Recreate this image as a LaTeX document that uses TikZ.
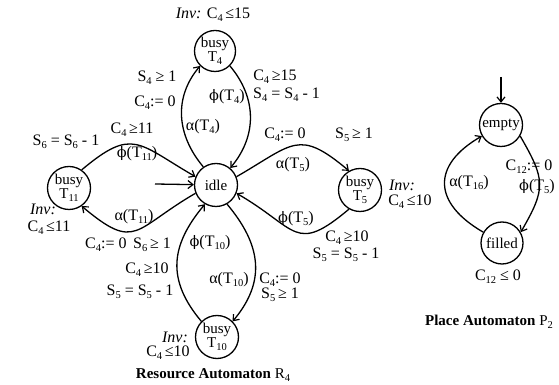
\documentclass[tikz,border=0pt]{standalone}
\usepackage{fontspec}
\setmainfont{Liberation Serif}
\newfontfamily\grk{DejaVu Serif}
\usetikzlibrary{arrows.meta}
\newcommand\sub[1]{\raisebox{-0.4ex}{\fontsize{10.5}{11}\selectfont #1}}
\newcommand\phii{{\grk\fontsize{14.5}{15}\selectfont ϕ}}
\begin{document}
\begin{tikzpicture}[x=1pt,y=1pt,
  st/.style={circle,draw,line width=1.3pt,minimum size=43pt,inner sep=0pt,align=center,font=\fontsize{15}{13}\selectfont},
  arr/.style={line width=1.3pt,-{Straight Barb[length=5pt,width=8pt,line width=1.2pt]}},
  lb/.style={inner sep=0pt,font=\fontsize{16}{17}\selectfont},
  ttl/.style={inner sep=0pt,font=\fontsize{15}{16}\selectfont}]
\useasboundingbox (0,0) rectangle (559,385);
% states
\node[st] (idle) at (216,200) {idle};
\node[st,minimum size=41pt] (T4) at (215,334) {busy\\T\sub{4}};
\node[st] (T11) at (69,197) {busy\\T\sub{11}};
\node[st] (T5) at (360,195) {busy\\T\sub{5}};
\node[st] (T10) at (217,48) {busy\\T\sub{10}};
\node[st] (empty) at (501,260) {empty};
\node[st,minimum size=42pt] (filled) at (502,142) {filled};
\coordinate (i0) at (155,201);
\coordinate (e0) at (501,308);
% connectors
\draw[arr] (i0) -- (idle);
\draw[arr] (e0) -- (empty);
\draw[arr] (idle.125) to[out=130,in=230,looseness=1.05] (T4.225);
\draw[arr] (T4.-45) to[out=-50,in=50,looseness=1.05] (idle.50);
\draw[arr] (T11.55) to[out=40,in=150,looseness=1.5] (idle.158);
\draw[arr] (idle.202) to[out=210,in=-40,looseness=1.6] (T11.-55);
\draw[arr] (idle.22) to[out=30,in=140,looseness=1.5] (T5.120);
\draw[arr] (T5.-120) to[out=-140,in=-30,looseness=1.6] (idle.-22);
\draw[arr] (T10.135) to[out=130,in=230,looseness=1.18] (idle.240);
\draw[arr] (idle.-60) to[out=-50,in=50,looseness=1.15] (T10.45);
\draw[arr] (empty.-30) to[out=-60,in=60,looseness=1.35] (filled.30);
\draw[arr] (filled.150) to[out=150,in=210,looseness=1.55] (empty.210);
% labels
\node[lb] (inv4) at (213,370) {\textit{Inv:} C\sub{4}\,≤15};
\node[lb] (g4) at (157,307) {S\sub{4} ≥ 1};
\node[lb] (r4) at (155,282) {C\sub{4}:= 0};
\node[lb] (p4) at (227,288) {\phii(T\sub{4})};
\node[lb] (a4) at (203,258) {α(T\sub{4})};
\node[lb] (c4) at (275,308) {C\sub{4}\,≥15};
\node[lb,anchor=west] (s4) at (253,290) {S\sub{4} = S\sub{4} - 1};
\node[lb] (s11) at (66,243) {S\sub{6} = S\sub{6} - 1};
\node[lb] (c11) at (132,255) {C\sub{4}\,≥11};
\node[lb] (p11) at (137,231) {\phii(T\sub{11})};
\node[lb] (inv11a) at (43,176) {\textit{Inv:}};
\node[lb] (inv11b) at (49,157) {C\sub{4}\,≤11};
\node[lb] (a11) at (134,168) {α(T\sub{11})};
\node[lb] (r11) at (128,140) {C\sub{4}:= 0\, S\sub{6}\,≥ 1};
\node[lb] (r5) at (285,250) {C\sub{4}:= 0};
\node[lb] (g5) at (354,250) {S\sub{5}\,≥ 1};
\node[lb] (a5) at (293,220) {α(T\sub{5})};
\node[lb] (inv5a) at (402,200) {\textit{Inv:}};
\node[lb] (inv5b) at (410,183) {C\sub{4}\,≤10};
\node[lb] (p5) at (296,166) {\phii(T\sub{5})};
\node[lb] (c5) at (347,147) {C\sub{4}\,≥10};
\node[lb] (s5) at (346,130) {S\sub{5} = S\sub{5} - 1};
\node[lb] (p10) at (210,142) {\phii(T\sub{10})};
\node[lb] (c10) at (147,115) {C\sub{4}\,≥10};
\node[lb] (s10) at (140,93) {S\sub{5} = S\sub{5} - 1};
\node[lb] (a10) at (229,105) {α(T\sub{10})};
\node[lb] (r10) at (280,105) {C\sub{4}:= 0};
\node[lb] (g10) at (280,90) {S\sub{5}\,≥ 1};
\node[lb] (inv10a) at (175,48) {\textit{Inv:}};
\node[lb] (inv10b) at (168,32) {C\sub{4}\,≤10};
\node[ttl] (tR) at (213,10) {\textbf{Resource Automaton} R\sub{4}};
\node[lb] (rP) at (529,218) {C\sub{12}:= 0};
\node[lb] (pP) at (537,198) {\phii(T\sub{5})};
\node[lb] (aP) at (469,202) {α(T\sub{16})};
\node[lb] (cP) at (498,108) {C\sub{12} ≤ 0};
\node[ttl] (tP) at (489,63) {\textbf{Place Automaton} P\sub{2}};
\end{tikzpicture}
\end{document}
